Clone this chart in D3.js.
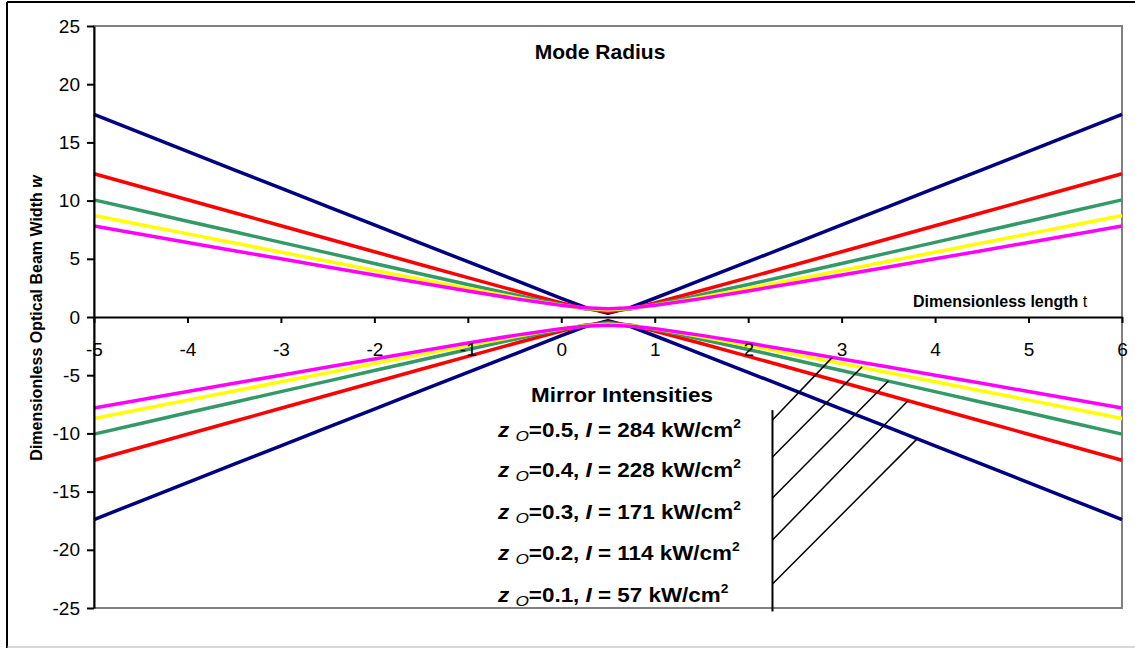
<!DOCTYPE html>
<html>
<head>
<meta charset="utf-8">
<script src="https://d3js.org/d3.v7.min.js"></script>
<style>
  html, body { margin: 0; padding: 0; background: #fff; }
  svg { display: block; font-family: "Liberation Sans", Arial, sans-serif; }
</style>
</head>
<body>
<div id="chart"></div>
<script>
// dimensionless length t (x axis)
const tValues = [-5, -4.5, -4, -3.5, -3, -2.5, -2, -1.5, -1, -0.5, -0.25, 0, 0.25, 0.5, 0.75, 1, 1.25, 1.5, 2, 2.5, 3, 3.5, 4, 4.5, 5, 5.5, 6];

// upper branch of beam width w for each zo (lower branch is the mirror image)
const wZo01 = [17.40, 15.81, 14.23, 12.65, 11.07, 9.49, 7.91, 6.33, 4.75, 3.18, 2.39, 1.61, 0.85, 0.32, 0.85, 1.61, 2.39, 3.18, 4.75, 6.33, 7.91, 9.49, 11.07, 12.65, 14.23, 15.81, 17.40];
const wZo02 = [12.31, 11.19, 10.07, 8.96, 7.84, 6.72, 5.61, 4.49, 3.38, 2.28, 1.74, 1.20, 0.72, 0.45, 0.72, 1.20, 1.74, 2.28, 3.38, 4.49, 5.61, 6.72, 7.84, 8.96, 10.07, 11.19, 12.31];
const wZo03 = [10.06, 9.15, 8.23, 7.32, 6.41, 5.51, 4.60, 3.69, 2.79, 1.91, 1.47, 1.07, 0.71, 0.55, 0.71, 1.07, 1.47, 1.91, 2.79, 3.69, 4.60, 5.51, 6.41, 7.32, 8.23, 9.15, 10.06];
const wZo04 = [8.72, 7.93, 7.14, 6.36, 5.57, 4.79, 4.00, 3.23, 2.46, 1.70, 1.34, 1.01, 0.75, 0.63, 0.75, 1.01, 1.34, 1.70, 2.46, 3.23, 4.00, 4.79, 5.57, 6.36, 7.14, 7.93, 8.72];
const wZo05 = [7.81, 7.11, 6.40, 5.70, 5.00, 4.30, 3.61, 2.92, 2.24, 1.58, 1.28, 1.00, 0.79, 0.71, 0.79, 1.00, 1.28, 1.58, 2.24, 2.92, 3.61, 4.30, 5.00, 5.70, 6.40, 7.11, 7.81];

const seriesNames = ["zo01", "zo02", "zo03", "zo04", "zo05"];
const seriesColors = ["#000080", "#ff0000", "#339966", "#ffff00", "#ff00ff"];

// axis ticks
const xTicks = [-5, -4, -3, -2, -1, 0, 1, 2, 3, 4, 5, 6];
const yTicks = [-25, -20, -15, -10, -5, 0, 5, 10, 15, 20, 25];

// mirror intensities legend
const legendZo = ["0.5", "0.4", "0.3", "0.2", "0.1"];
const legendIntensity = [284, 228, 171, 114, 57];

// mirror: t position, and hatch lines from the mirror (w on mirror) to a point on each curve
const mirrorT = 2.26;
const mirrorSpan = [-8.0, -25.3];
const hatchStartW = [-8.85, -12.03, -15.55, -19.16, -22.94];
const hatchEnd = [[2.90, -3.47], [3.22, -4.27], [3.50, -5.50], [3.71, -7.20], [3.81, -10.45]];

const width = 1135, height = 648;
const svg = d3.select("#chart").append("svg")
    .attr("width", width)
    .attr("height", height);

// outer frame (cropped)
svg.append("line").attr("x1", 7).attr("x2", 7).attr("y1", 2).attr("y2", 648)
    .attr("stroke", "#000").attr("stroke-width", 2);
svg.append("line").attr("x1", 7).attr("x2", 1135).attr("y1", 2).attr("y2", 2)
    .attr("stroke", "#000").attr("stroke-width", 2);
svg.append("line").attr("x1", 7).attr("x2", 1135).attr("y1", 647).attr("y2", 647)
    .attr("stroke", "#b0b0b0").attr("stroke-width", 1);

const x = d3.scaleLinear().domain([-5, 6]).range([94, 1122]);
const y = d3.scaleLinear().domain([-25, 25]).range([608, 26]);

// plot frame (gray)
svg.append("rect")
    .attr("x", x(-5)).attr("y", y(25))
    .attr("width", x(6) - x(-5)).attr("height", y(-25) - y(25))
    .attr("fill", "none").attr("stroke", "#808080").attr("stroke-width", 2);

// curves
const allSeries = [wZo01, wZo02, wZo03, wZo04, wZo05];
const line = d3.line().x(d => x(d[0])).y(d => y(d[1]));
allSeries.forEach((vals, i) => {
    const upper = tValues.map((t, j) => [t, vals[j]]);
    const lower = tValues.map((t, j) => [t, -vals[j]]);
    [upper, lower].forEach(pts => {
        svg.append("path")
            .datum(pts)
            .attr("class", "series " + seriesNames[i])
            .attr("fill", "none")
            .attr("stroke", seriesColors[i])
            .attr("stroke-width", 3.5)
            .attr("stroke-linejoin", "round")
            .attr("d", line);
    });
});

// y axis
const yAxis = svg.append("g")
    .attr("transform", `translate(${x(-5)},0)`)
    .call(d3.axisLeft(y).tickValues(yTicks).tickFormat(d => String(d))
        .tickSize(7).tickSizeOuter(0).tickPadding(7));
yAxis.select(".domain").attr("stroke", "#000").attr("stroke-width", 2);
yAxis.selectAll(".tick line").attr("stroke", "#000").attr("stroke-width", 2);
yAxis.selectAll("text").attr("font-size", 19).attr("font-family", "Liberation Sans, Arial, sans-serif").attr("fill", "#000");

// x axis at w = 0
const xAxis = svg.append("g")
    .attr("transform", `translate(0,${y(0)})`)
    .call(d3.axisBottom(x).tickValues(xTicks).tickFormat(d => String(d))
        .tickSize(6).tickSizeOuter(0).tickPadding(20));
xAxis.select(".domain").attr("stroke", "#000").attr("stroke-width", 2);
xAxis.selectAll(".tick line").attr("stroke", "#000").attr("stroke-width", 2);
xAxis.selectAll("text").attr("font-size", 19).attr("font-family", "Liberation Sans, Arial, sans-serif").attr("fill", "#000");

// titles
svg.append("text")
    .attr("x", 600).attr("y", 59)
    .attr("text-anchor", "middle")
    .attr("font-size", 21).attr("font-weight", "bold")
    .text("Mode Radius");

const xt = svg.append("text")
    .attr("x", 913).attr("y", 307)
    .attr("font-size", 16).attr("font-weight", "bold");
xt.append("tspan").text("Dimensionless length ");
xt.append("tspan").attr("font-weight", "normal").text("t");

const yt = svg.append("text")
    .attr("transform", "translate(42,318) rotate(-90)")
    .attr("text-anchor", "middle")
    .attr("font-size", 16).attr("font-weight", "bold");
yt.append("tspan").text("Dimensionless Optical Beam Width ");
yt.append("tspan").attr("font-style", "italic").text("w");

// mirror + hatching
svg.append("line")
    .attr("x1", x(mirrorT)).attr("x2", x(mirrorT))
    .attr("y1", y(mirrorSpan[0])).attr("y2", y(mirrorSpan[1]))
    .attr("stroke", "#000").attr("stroke-width", 2);
hatchStartW.forEach((w, i) => {
    svg.append("line")
        .attr("x1", x(mirrorT)).attr("y1", y(w))
        .attr("x2", x(hatchEnd[i][0])).attr("y2", y(hatchEnd[i][1]))
        .attr("stroke", "#000").attr("stroke-width", 1.5);
});

// mirror intensities legend
svg.append("text")
    .attr("transform", "translate(622,402) scale(1.15,1)")
    .attr("text-anchor", "middle")
    .attr("font-size", 19.5).attr("font-weight", "bold")
    .text("Mirror Intensities");

const legendBaselines = [437, 477, 519, 560, 602];
legendZo.forEach((zo, i) => {
    const t = svg.append("text")
        .attr("transform", `translate(498,${legendBaselines[i]}) scale(1.15,1)`)
        .attr("font-size", 19.5).attr("font-weight", "bold");
    t.append("tspan").attr("font-style", "italic").text("z ");
    t.append("tspan").attr("font-style", "italic").attr("font-weight", "normal")
        .attr("font-size", 15).attr("dy", 4).text("O");
    t.append("tspan").attr("dy", -4).text(`=${zo}, `);
    t.append("tspan").attr("font-style", "italic").text("I");
    t.append("tspan").text(` = ${legendIntensity[i]} kW/cm`);
    t.append("tspan").attr("font-size", 12).attr("dy", -9).text("2");
});
</script>
</body>
</html>
